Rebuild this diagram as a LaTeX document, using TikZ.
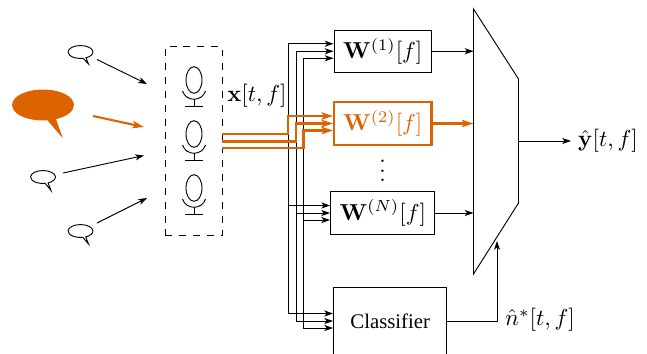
\documentclass[tikz,border=0pt]{standalone}
\usepackage{amsmath}
\usepackage[no-math]{fontspec}
\newfontfamily\labelfont{Liberation Serif}
\usetikzlibrary{shapes.callouts,arrows.meta}
\definecolor{hot}{HTML}{DD6200}
\tikzset{
  talker/.style={ellipse callout,draw,inner sep=0pt},
  small/.style={talker,minimum width=10.8pt,minimum height=5.6pt,callout pointer arc=14},
  filter/.style={draw,inner sep=0pt},
  hotline/.style={draw=hot,line width=0.9pt,-{Stealth[length=5pt,width=3.2pt,inset=1.2pt]}},
  mic/.pic={
    \draw (0,0) ellipse[x radius=8,y radius=13.3];
    \draw (-11.5,11) .. controls (-8,22) and (8,22) .. (11.5,11);
    \draw (0,19.2) -- (0,26);
    \draw (-9,26) -- (9,26);
  }
}
\begin{document}
\begin{tikzpicture}[x=0.433pt,y=-0.433pt,line width=0.4pt,>={Stealth[length=3.8pt,width=2.6pt,inset=1pt]}]
\useasboundingbox (0,0) rectangle (647,353);
% talkers
\node[small,callout absolute pointer={(88.5,64)}] (s1) at (80.5,52) {};
\node[talker,draw=hot,fill=hot,minimum width=26.4pt,minimum height=13pt,callout absolute pointer={(61.5,136)}] (s2) at (43,105) {};
\node[small,callout absolute pointer={(51,190.5)}] (s3) at (43,177) {};
\node[small,callout absolute pointer={(88.5,244)}] (s4) at (80.5,231) {};
\coordinate (s1a) at (97,59.5);
\coordinate (s1b) at (147,84);
\coordinate (s2a) at (93,116);
\coordinate (s2b) at (144,127);
\coordinate (s3a) at (63,173);
\coordinate (s3b) at (144,155.5);
\coordinate (s4a) at (97,223);
\coordinate (s4b) at (147,198);
\draw[->] (s1a) -- (s1b);
\draw[hotline] (s2a) -- (s2b);
\draw[->] (s3a) -- (s3b);
\draw[->] (s4a) -- (s4b);
% array
\node[draw,dashed,minimum width=24.5pt,minimum height=81.8pt,inner sep=0pt] (array) at (193.75,141) {};
\pic at (194,80) {mic};
\pic at (194,134) {mic};
\pic at (194,188) {mic};
\node (x) at (257,96) {$\mathbf{x}[t,f]$};
% filters
\node[filter,minimum width=42.2pt,minimum height=18.4pt] (w1) at (382.75,51.25) {$\mathbf{W}^{(1)}[f]$};
\node[filter,draw=hot,text=hot,line width=0.9pt,minimum width=42.2pt,minimum height=18.6pt] (w2) at (382.75,123.5) {$\mathbf{W}^{(2)}[f]$};
\node[inner sep=0pt] (dots) at (382.5,164) {$\vdots$};
\node[filter,minimum width=45.2pt,minimum height=18.6pt] (wn) at (382.75,213) {$\mathbf{W}^{(N)}[f]$};
\node[draw,minimum width=49.1pt,minimum height=29.4pt,inner sep=0pt,font=\labelfont\fontsize{9}{11}\selectfont] (cls) at (390.25,321) {Classifier};
% selector
\coordinate (t1) at (473.5,9);
\coordinate (t2) at (518.5,79);
\coordinate (t3) at (518.5,203);
\coordinate (t4) at (473.5,274);
\draw (t1) -- (t2) -- (t3) -- (t4) -- cycle;
% microphone signals
\foreach \n/\xa/\ya/\off in {1/288/134/-7.5,2/296.25/141.5/0,3/303.5/148/7}{
  \coordinate (o\n) at (222,\ya);
  \coordinate (b\n) at (\xa,\ya);
  \coordinate (p\n) at ([yshift=-\off*0.433pt]w1.west);
  \coordinate (q\n) at ([yshift=-\off*0.433pt]w2.west);
  \coordinate (r\n) at ([yshift=-\off*0.433pt]wn.west);
  \coordinate (c\n) at ([yshift=-\off*0.433pt]cls.west);
  \draw[->] (b\n) |- (p\n);
  \draw[->] (b\n |- r\n) -- (r\n);
  \draw[->] (b\n) |- (c\n);
}
\foreach \n in {1,2,3}{
  \draw[hotline] (o\n) -- (b\n) |- (q\n);
}
% outputs
\coordinate (o1e) at (w1.east -| t1);
\coordinate (o2e) at (w2.east -| t1);
\coordinate (one) at (wn.east -| t1);
\draw[->] (w1) -- (o1e);
\draw[hotline] (w2) -- (o2e);
\draw[->] (wn) -- (one);
\coordinate (ya) at (518.5,141);
\coordinate (yb) at (571,141);
\draw[->] (ya) -- (yb);
\node (y) at (608,141) {$\hat{\mathbf{y}}[t,f]$};
\coordinate (nc) at (497,241);
\draw[->] (cls) -| (nc);
\node (n) at (540,320) {$\hat{n}^{*}[t,f]$};
\end{tikzpicture}
\end{document}
